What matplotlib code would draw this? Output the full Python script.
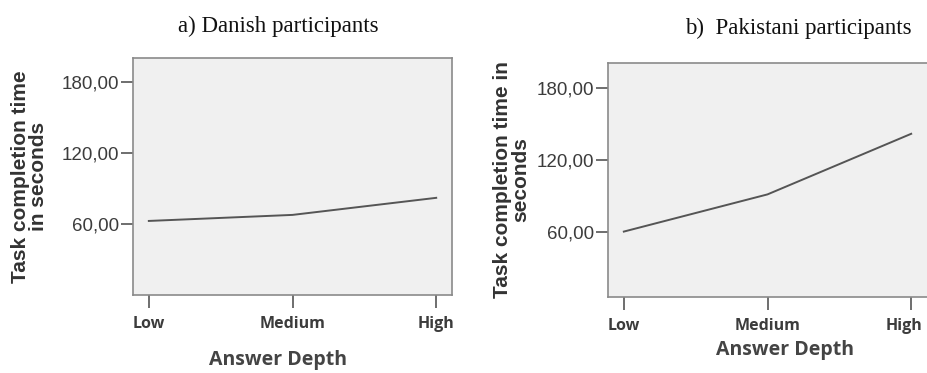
import matplotlib
matplotlib.use("Agg")
import matplotlib.pyplot as plt
import matplotlib.transforms as mtransforms
from matplotlib.ticker import FixedLocator, FuncFormatter

# data
depth = ["Low", "Medium", "High"]
danish = [62.5, 67.6, 82.0]
pakistani = [60.5, 91.5, 142.0]
yticks = [60, 120, 180]

fig = plt.figure(figsize=(9.27, 3.73), dpi=100)

# axes boxes in figure fractions
ax1 = fig.add_axes([0.1435, 0.2091, 0.3441, 0.6354])
ax2 = fig.add_axes([0.6559, 0.2038, 0.3441, 0.6273])

panels = [
    (ax1, danish, (0, 200), "Task completion time\nin seconds", (-0.266, 0.5), (0.4545, -0.232)),
    (ax2, pakistani, (6, 201), "Task completion time in\nseconds", (-0.245, 0.5), (0.555, -0.184)),
]

for ax, vals, ylim, ylab, ylab_xy, xlab_xy in panels:
    ax.set_facecolor("#f0f0f0")
    ax.plot(range(len(depth)), vals, color="#555555", lw=1.4)
    ax.set_xlim(-0.11, 2.11)
    ax.set_ylim(*ylim)
    ax.set_xticks(range(len(depth)))
    ax.set_xticklabels(depth, fontfamily="Open Sans", fontweight="bold", fontsize=11.5, color="#3c3c3c")
    ax.yaxis.set_major_locator(FixedLocator(yticks))
    ax.yaxis.set_major_formatter(FuncFormatter(lambda v, p: f"{v:.2f}".replace(".", ",")))
    for lab in ax.get_yticklabels():
        lab.set_fontfamily("Liberation Sans")
        lab.set_fontsize(13.5)
        lab.set_color("#3c3c3c")
    ax.tick_params(axis="y", direction="out", length=9, width=1.2, color="#555555", pad=1)
    ax.tick_params(axis="x", direction="out", length=9, width=1.2, color="#555555", pad=6)
    for sp in ax.spines.values():
        sp.set_color("#8a8a8a")
        sp.set_linewidth(1.2)
    ax.set_ylabel(ylab, fontfamily="Liberation Sans", fontweight="bold", fontsize=15,
                  color="#333333", linespacing=0.95)
    ax.yaxis.set_label_coords(*ylab_xy)
    ax.set_xlabel("Answer Depth", fontfamily="Open Sans", fontweight="bold", fontsize=14, color="#444444")
    ax.xaxis.set_label_coords(*xlab_xy)

ax2.spines["right"].set_visible(False)
# the last label on the right panel sits a little left of its tick, so it stays in the picture
high = ax2.get_xticklabels()[-1]
high.set_transform(high.get_transform() + mtransforms.ScaledTranslation(-7 / 100, 0, fig.dpi_scale_trans))

fig.text(0.300, 0.93, "a) Danish participants", ha="center", va="center",
         fontfamily="Liberation Serif", fontsize=16.5, color="#111111")
fig.text(0.861, 0.925, "b)  Pakistani participants", ha="center", va="center",
         fontfamily="Liberation Serif", fontsize=16.5, color="#111111")

fig.savefig("out.png", dpi=100, facecolor="white")
